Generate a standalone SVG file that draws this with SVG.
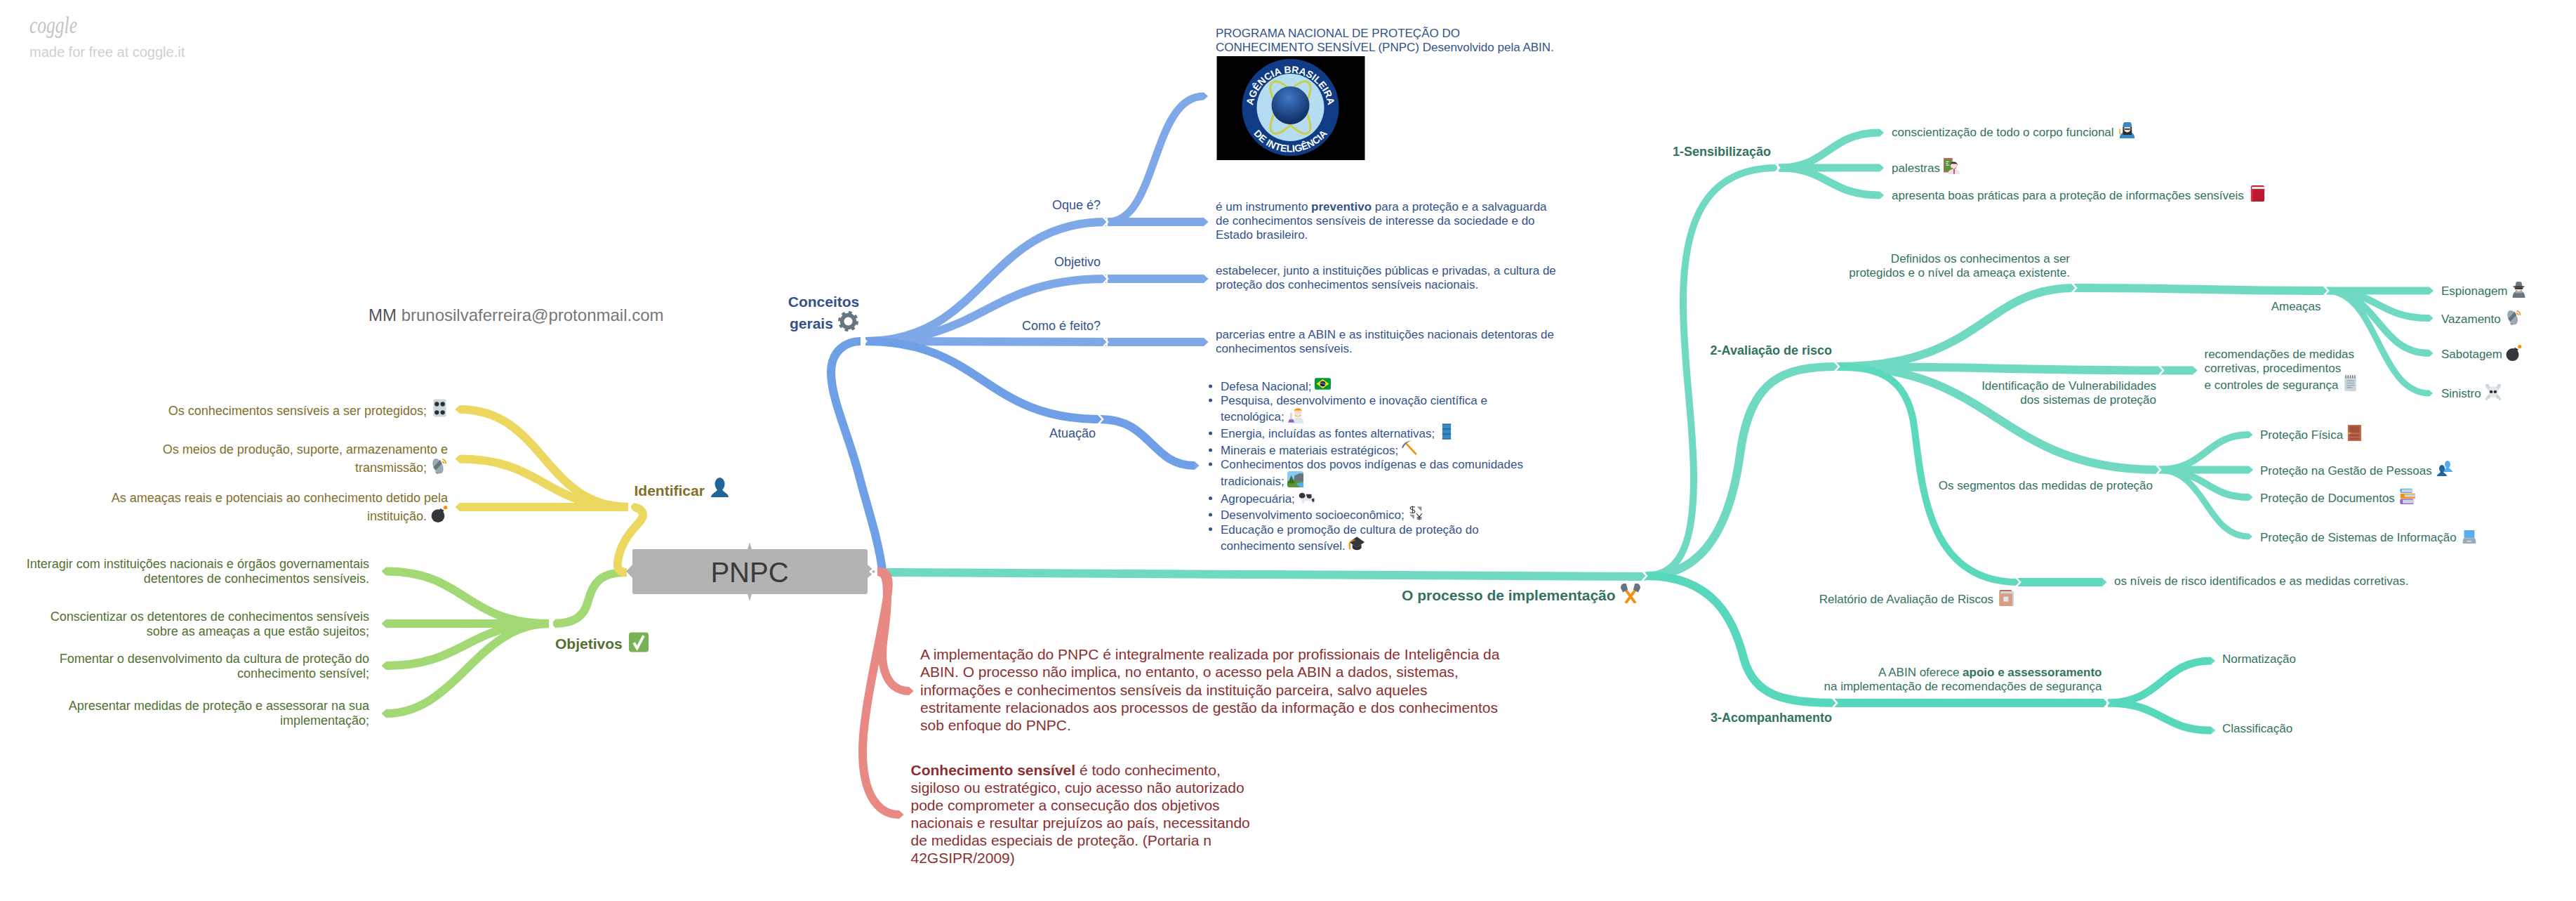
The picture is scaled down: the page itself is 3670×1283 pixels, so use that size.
<svg xmlns="http://www.w3.org/2000/svg" xmlns:xlink="http://www.w3.org/1999/xlink" width="3670" height="1283" viewBox="0 0 3670 1283">
<style>
text{font-family:"Liberation Sans",Arial,sans-serif;font-size:18px}
.ye{fill:#7f6f2b}
.gr{fill:#527030}
.bl{fill:#34528a;font-size:17px}
.te{fill:#33725f;font-size:17px}
.re{fill:#8b3030;font-size:21px}
.b{font-weight:bold}
.bt{font-weight:bold;font-size:21px}
.s18{font-size:18px}
.r{text-anchor:end}
.m{text-anchor:middle}
.c{fill:none;stroke-linecap:butt;stroke-linejoin:round}
.cy{stroke:#ecd75f;stroke-width:12;marker-end:url(#ty)}
.cg{stroke:#a3d974;stroke-width:12;marker-end:url(#tg)}
.cb{stroke:#7ea8e7;stroke-width:12;marker-end:url(#tb)}
.ct{stroke:#6fd9c2;stroke-width:12;marker-end:url(#tt)}
.cr{stroke:#e88a83;stroke-width:12;marker-end:url(#tr)}
.n{marker-end:none}
.chev{fill:none;stroke:#fff;stroke-width:2.6}
</style>
<defs>
<marker id="ty" markerUnits="strokeWidth" viewBox="0 -0.5 0.6 1" refX="0" refY="0" markerWidth="0.6" markerHeight="1" orient="auto"><path d="M0-.5.55 0 0 .5Z" fill="#ecd75f"/></marker>
<marker id="tg" markerUnits="strokeWidth" viewBox="0 -0.5 0.6 1" refX="0" refY="0" markerWidth="0.6" markerHeight="1" orient="auto"><path d="M0-.5.55 0 0 .5Z" fill="#a3d974"/></marker>
<marker id="tb" markerUnits="strokeWidth" viewBox="0 -0.5 0.6 1" refX="0" refY="0" markerWidth="0.6" markerHeight="1" orient="auto"><path d="M0-.5.55 0 0 .5Z" fill="#7ea8e7"/></marker>
<marker id="tt" markerUnits="strokeWidth" viewBox="0 -0.5 0.6 1" refX="0" refY="0" markerWidth="0.6" markerHeight="1" orient="auto"><path d="M0-.5.55 0 0 .5Z" fill="#6fd9c2"/></marker>
<marker id="tr" markerUnits="strokeWidth" viewBox="0 -0.5 0.6 1" refX="0" refY="0" markerWidth="0.6" markerHeight="1" orient="auto"><path d="M0-.5.55 0 0 .5Z" fill="#e88a83"/></marker>
<path id="ch" class="chev" d="M-8-9 0 0-8 9"/>
<path id="chl" class="chev" d="M8-9 0 0 8 9"/>
<symbol id="i-knobs" viewBox="0 0 36 36"><rect x="5" width="26" height="36" rx="3" fill="#ccd6dd"/><g fill="#292f33"><circle cx="12" cy="10" r="4.5"/><circle cx="24" cy="10" r="4.5"/><circle cx="12" cy="27" r="4.5"/><circle cx="24" cy="27" r="4.5"/></g></symbol>
<symbol id="i-sat" viewBox="0 0 36 36"><g transform="rotate(-25 15 19)"><ellipse cx="15" cy="19" rx="10" ry="17" fill="#99aab5"/><path d="M5 17 25 9V18L7 25Z" fill="#66757f"/></g><path d="M8 30 20 34 12 36Z" fill="#8899a6"/><path d="M24 4C29 5 32 9 32 14M24 9C26 10 28 11 28 14" fill="none" stroke="#f4900c" stroke-width="2.4"/></symbol>
<symbol id="i-bomb" viewBox="0 0 36 36"><circle cx="15" cy="22" r="14" fill="#31373d"/><path d="M20 6 28 10 24 16 17 12Z" fill="#31373d"/><circle cx="31" cy="4" r="4" fill="#f4900c"/></symbol>
<symbol id="i-bust" viewBox="0 0 36 36"><ellipse cx="18" cy="12" rx="9" ry="12" fill="currentColor"/><path d="M2 36C2 28 13 28 14 20H22C23 28 34 28 34 36Z" fill="currentColor"/></symbol>
<symbol id="i-check" viewBox="0 0 36 36"><rect width="36" height="36" rx="5" fill="#77b255"/><path d="M9 19 15 29 27 6" fill="none" stroke="#fff" stroke-width="5"/></symbol>
<symbol id="i-gear" viewBox="0 0 36 36"><circle cx="18" cy="18" r="11" fill="none" stroke="#66757f" stroke-width="7"/><circle cx="18" cy="18" r="15.8" fill="none" stroke="#66757f" stroke-width="4.4" stroke-dasharray="6 6.41"/></symbol>
<symbol id="i-flag" viewBox="0 0 36 36"><rect width="36" height="26" y="5" rx="4" fill="#009b3a"/><path d="M18 8 32 18 18 28 4 18Z" fill="#fedf00"/><circle cx="18" cy="18" r="6" fill="#002776"/><path d="M12 17Q18 15 24 20" stroke="#fff" fill="none"/></symbol>
<symbol id="i-sci" viewBox="0 0 36 36"><circle cx="22" cy="10" r="8" fill="#f7dece"/><path d="M13 9C14 0 31 0 31 9L29 7H15Z" fill="#f4900c"/><path d="M15 16Q22 22 29 16L28 20H16Z" fill="#f4900c"/><path d="M12 36C12 24 17 21 22 21S34 24 35 34V36Z" fill="#e1e8ed"/><path d="M5 12H9V22L13 32H1L5 22Z" fill="#ccd6dd"/><path d="M3 27H12L14 34H0Z" fill="#9266cc"/></symbol>
<symbol id="i-barrel" viewBox="0 0 36 36"><rect x="8" width="20" height="36" fill="#3b88c3"/><path d="M8 1H28M8 12H28M8 24H28M8 35H28" stroke="#226699" stroke-width="2.4"/></symbol>
<symbol id="i-pick" viewBox="0 0 36 36"><path d="M11 8 34 33" stroke="#f4900c" stroke-width="4.5"/><path d="M0 17C3 8 12 1 24 1 15 3 8 9 3 18Z" fill="#66757f"/></symbol>
<symbol id="i-land" viewBox="0 0 36 36"><rect width="36" height="36" rx="5" fill="#88c9f9"/><path d="M14 24 16 10 26 5H36V28Z" fill="#66757f"/><path d="M0 22H36V31A5 5 0 0 1 31 36H5A5 5 0 0 1 0 31Z" fill="#5c913b"/><path d="M36 24C26 27 18 26 22 30S28 33 30 36H36Z" fill="#55acee"/><path d="M9 9 17 27H1Z" fill="#3e721d"/></symbol>
<symbol id="i-cow" viewBox="0 0 36 36"><path d="M7 12H30Q35 14 35 22V30H30L29 24H13L12 30H8L7 22Z" fill="#e6e7e8"/><ellipse cx="8" cy="12" rx="7" ry="6" fill="#31373d"/><path d="M17 9H29V17Q24 21 19 16Z" fill="#31373d"/><path d="M29 20 35 18V26H31Z" fill="#31373d"/></symbol>
<symbol id="i-cur" viewBox="0 0 36 36"><g fill="none" stroke="#31373d" stroke-width="2"><path d="M16 3C12 1 4 1 4 6S16 9 16 14 7 19 3 16M10 0V19"/><path d="M20 19 27 28 34 19M27 28V36M21 29H33M21 33H33"/></g><path d="M21 2H33V14ZM2 22H14V34Z" fill="#8899a6"/></symbol>
<symbol id="i-cap" viewBox="0 0 36 36"><path d="M19 2 36 14 19 26 2 14Z" fill="#31373d"/><path d="M9 19V27C13 33 25 33 29 27V19L19 26Z" fill="#292f33"/><path d="M3 15V30" stroke="#f4900c" stroke-width="3.5"/><path d="M3 14 15 9" stroke="#f4900c" stroke-width="2"/></symbol>
<symbol id="i-ham" viewBox="0 0 36 36"><path d="M5 6 27 36M31 6 9 36" stroke="#f4900c" stroke-width="5"/><path d="M0 8 C0 0 6 -1 10 0L13 11 4 16ZM36 8C36 0 30-1 26 0L23 11 32 16Z" fill="#66757f"/></symbol>
<symbol id="i-tea" viewBox="0 0 36 36"><rect width="20" height="32" fill="#c1694f" rx="1"/><rect x="2" y="3" width="16" height="26" fill="#5c913b"/><path d="M5 8H12M5 12H10M5 16H13" stroke="#fff" stroke-width="1.5"/><path d="M10 36C10 27 16 25 23 25S36 27 36 36Z" fill="#e1e8ed"/><path d="M22 25H25L24.500 36H22.500Z" fill="#dd2e44"/><circle cx="23" cy="17" r="7.500" fill="#f7dece"/><path d="M15 17C14 6 32 6 31 17L29 13H17Z" fill="#292f33"/><path d="M18 21Q23 26 28 21L27 24H19Z" fill="#292f33"/></symbol>
<symbol id="i-grd" viewBox="0 0 36 36"><path d="M3 34C3 25 11 22 20 22S36 25 36 34V36H3Z" fill="#3b88c3"/><path d="M10 10C10 24 9 26 11 28H29C31 26 30 24 30 10Z" fill="#292f33"/><circle cx="20" cy="15" r="7.500" fill="#f7dece"/><path d="M13 14H27L26 17H14Z" fill="#292f33"/><path d="M10 11C10 0 14 -2 20 0 26-2 30 0 30 11Z" fill="#3b88c3"/><path d="M2 15H5V27H2Z" fill="#ffac33"/></symbol>
<symbol id="i-red" viewBox="0 0 36 36"><rect x="3" width="30" height="36" rx="4" fill="#be1931"/><rect x="5" y="3" width="28" height="5" fill="#e1e8ed"/><rect x="3" y="8" width="4" height="28" fill="#dd2e44"/></symbol>
<symbol id="i-note" viewBox="0 0 36 36"><rect x="5" y="3" width="26" height="33" fill="#ccd6dd" rx="2"/><path d="M10 13H27M10 18H27M10 23H27M10 28H22" stroke="#99aab5" stroke-width="2.500"/><path d="M8 0V7M13 0V7M18 0V7M23 0V7M28 0V7" stroke="#66757f" stroke-width="2"/></symbol>
<symbol id="i-spy" viewBox="0 0 36 36"><path d="M4 36C4 24 12 20 18 20S32 24 32 36Z" fill="#66757f"/><circle cx="18" cy="15" r="8" fill="#ffdbac"/><path d="M9 13H27V17H9Z" fill="#292f33"/><path d="M11 18 18 23 25 18 26 26H10Z" fill="#99aab5"/><path d="M10 11 12 1Q18-1 24 1L26 11Z" fill="#66757f"/><path d="M5 10H31L29 13H7Z" fill="#31373d"/></symbol>
<symbol id="i-skull" viewBox="0 0 36 36"><path d="M5 5 31 31M31 5 5 31" stroke="#ccd6dd" stroke-width="7"/><g fill="#ccd6dd"><circle cx="5" cy="3" r="4"/><circle cx="31" cy="3" r="4"/><circle cx="3" cy="33" r="3"/><circle cx="33" cy="33" r="3"/></g><circle cx="18" cy="16" r="11" fill="#e1e8ed"/><rect x="12" y="22" width="12" height="7" fill="#e1e8ed"/><circle cx="13.500" cy="17" r="3.500" fill="#292f33"/><circle cx="22.500" cy="17" r="3.500" fill="#292f33"/></symbol>
<symbol id="i-door" viewBox="0 0 36 36"><rect x="3" width="30" height="36" fill="#c1694f"/><rect x="7" y="3" width="22" height="14" fill="#a0503a"/><rect x="7" y="21" width="22" height="5" fill="#a0503a"/><rect x="7" y="29" width="22" height="4" fill="#a0503a"/><rect x="3" y="17" width="6" height="3" fill="#ffac33"/></symbol>
<symbol id="i-books" viewBox="0 0 36 36"><rect x="2" y="1" width="28" height="10" rx="3" fill="#55acee"/><rect x="6" y="3" width="24" height="6" fill="#ccd6dd"/><rect x="3" y="12" width="33" height="11" rx="1" fill="#f4900c"/><rect x="12" y="14" width="24" height="6" fill="#ccd6dd"/><rect x="2" y="24" width="31" height="12" rx="4" fill="#9266cc"/><rect x="8" y="26" width="25" height="8" fill="#ccd6dd"/></symbol>
<symbol id="i-lap" viewBox="0 0 36 36"><rect x="4" width="28" height="22" rx="1" fill="#5dadec"/><path d="M2 22H34L36 33Q36 36 32 36H4Q0 36 0 33Z" fill="#99aab5"/><rect x="12" y="28" width="12" height="4" fill="#ccd6dd"/></symbol>
<symbol id="i-book2" viewBox="0 0 36 36"><rect x="4" width="28" height="36" rx="3" fill="#c1694f"/><rect x="6" y="3" width="30" height="33" fill="#ccd6dd"/><rect x="4" y="8" width="29" height="28" fill="#d99e82"/><rect x="13" y="15" width="11" height="11" fill="#e1e8ed"/></symbol>
<path id="arcTop" d="M1784.500 158A54 54 0 0 1 1892.500 158"/>
<path id="arcBot" d="M1772 150A66.500 66.500 0 0 0 1905 150"/>
<radialGradient id="globe" cx="45%" cy="30%" r="70%"><stop offset="0" stop-color="#3f78c4"/><stop offset="1" stop-color="#0d2c62"/></radialGradient>
</defs>
<g id="watermark"><text x="42" y="47" style="font-family:'Liberation Serif',serif;font-style:italic;font-size:33px" fill="#c4c4c4" textLength="68" lengthAdjust="spacingAndGlyphs">coggle</text><text x="42" y="81" style="font-size:20px" fill="#cfcfcf">made for free at coggle.it</text></g>
<g id="connectors">
<path class="c cg n" d="M893 815C855 815 845 830 838 855 832 880 815 888 788 888"/>
<path class="c cg" d="M782 888C663 888 663 813.500 550 813.500"/>
<path class="c cg" d="M782 888C663 888 663 888 550 888"/>
<path class="c cg" d="M782 888C663 888 663 948 550 948"/>
<path class="c cg" d="M782 888C680 888 650 1016 550 1016"/>
<path class="c cy n" d="M893 815C878 815 878 805 882 790 892 755 916 745 916 733 916 726 908 722 899 722"/>
<path class="c cy" d="M895 722C775 722 775 583 655 583"/>
<path class="c cy" d="M895 722C775 722 775 653.500 655 653.500"/>
<path class="c cy" d="M895 722H655"/>
<path class="c cb n" style="stroke:#6f9fe6" d="M1257 812C1252 770 1235 720 1226 685 1210 620 1184 570 1184 530 1184 500 1205 486 1226 486"/>
<path class="c cb n" d="M1233 486C1404 486 1404 316 1576 316"/>
<path class="c cb" d="M1578 316H1715"/>
<path class="c cb" style="stroke-width:11" d="M1578 316C1650 316 1640 137 1715 137"/>
<path class="c cb n" d="M1233 486C1404 486 1404 397 1576 397"/>
<path class="c cb" d="M1578 397H1715"/>
<path class="c cb n" d="M1233 486C1404 486 1404 487 1576 487"/>
<path class="c cb" d="M1578 487H1715"/>
<path class="c cb n" style="stroke:#6f9fe6" d="M1233 486C1400 486 1400 597 1568 597"/>
<path class="c cb" style="stroke:#6f9fe6" d="M1568 597C1640 597 1640 663 1702 663"/>
<path class="c ct n" d="M1255 815C1700 815 1900 821 2345 821"/>
<path class="c ct n" style="stroke-width:10" d="M2345 820C2400 820 2413 760 2413 680 2413 600 2398 520 2398 430 2398 300 2440 239 2532 239"/>
<path class="c ct" style="stroke-width:11" d="M2534 239C2605 239 2605 189 2678 189"/>
<path class="c ct" style="stroke-width:11" d="M2534 239H2678"/>
<path class="c ct" style="stroke-width:11" d="M2534 239C2605 239 2605 278 2678 278"/>
<path class="c ct n" d="M2345 820C2420 820 2465 760 2480 640 2495 540 2540 522 2618 522"/>
<path class="c ct n" d="M2618 522C2825 522 2825 410 2956 410"/>
<path class="c ct n" d="M2956 410C3140 410 3140 414 3314 414"/>
<path class="c ct" style="stroke-width:11" d="M3314 414H3461"/>
<path class="c ct" style="stroke-width:10" d="M3314 414C3388 414 3388 453 3461 453"/>
<path class="c ct" style="stroke-width:10" d="M3314 414C3388 414 3388 503 3461 503"/>
<path class="c ct" style="stroke-width:9" d="M3314 414C3388 414 3388 560 3461 560"/>
<path class="c ct n" d="M2618 522C2850 522 2850 527.500 3080 527.500"/>
<path class="c ct" d="M3080 527.500H3124"/>
<path class="c ct n" d="M2618 522C2845 522 2845 669 3075 669"/>
<path class="c ct" style="stroke-width:10" d="M3075 669C3143 669 3143 619 3204 619"/>
<path class="c ct" style="stroke-width:11" d="M3075 669H3204"/>
<path class="c ct" style="stroke-width:10" d="M3075 669C3143 669 3143 708 3204 708"/>
<path class="c ct" style="stroke-width:9" d="M3075 669C3143 669 3143 764 3204 764"/>
<path class="c ct n" style="stroke:#5cd9bd;stroke-width:10" d="M2618 522C2680 522 2715 540 2726 600 2738 680 2740 829 2875 829"/>
<path class="c ct" style="stroke:#5cd9bd" d="M2875 829H2995"/>
<path class="c ct n" style="stroke:#57d8bc" d="M2345 820C2440 820 2470 880 2485 940 2500 990 2540 1001 2614 1001"/>
<path class="c ct n" style="stroke:#57d8bc" d="M2614 1001H3001"/>
<path class="c ct" style="stroke:#57d8bc;stroke-width:11" d="M3003 1001C3080 1001 3080 941 3150 941"/>
<path class="c ct" style="stroke:#57d8bc;stroke-width:11" d="M3003 1001C3080 1001 3080 1040 3150 1040"/>
<path class="c cr" style="stroke-width:12" d="M1250 814C1262 814 1264 825 1264 850 1264 890 1254 920 1258 945 1262 970 1275 984 1295 984"/>
<path class="c cr" d="M1252 814C1266 814 1268 825 1264 850 1256 905 1229 1010 1229 1070 1229 1130 1250 1160 1281 1160"/>
<use xlink:href="#ch" href="#ch" x="1234" y="486"/>
<use xlink:href="#ch" href="#ch" x="1578" y="316"/>
<use xlink:href="#ch" href="#ch" x="1578" y="397"/>
<use xlink:href="#ch" href="#ch" x="1578" y="487"/>
<use xlink:href="#ch" href="#ch" x="1571" y="597"/>
<use xlink:href="#ch" href="#ch" x="2346" y="820"/>
<use xlink:href="#ch" href="#ch" x="2535" y="239"/>
<use xlink:href="#ch" href="#ch" x="2620" y="522"/>
<use xlink:href="#ch" href="#ch" x="2617" y="1001"/>
<use xlink:href="#ch" href="#ch" x="2958" y="410"/>
<use xlink:href="#ch" href="#ch" x="3317" y="414"/>
<use xlink:href="#ch" href="#ch" x="3082" y="527.500"/>
<use xlink:href="#ch" href="#ch" x="3078" y="669"/>
<use xlink:href="#ch" href="#ch" x="2878" y="829"/>
<use xlink:href="#ch" href="#ch" x="3004" y="1001"/>
<use xlink:href="#chl" href="#chl" x="896" y="722"/>
<use xlink:href="#chl" href="#chl" x="784" y="888"/>
</g>
<g id="root"><path d="M892 813.500 901 804V782.500Q901 782 904 782H1065L1068 772 1071 782H1233Q1236 782 1236 785V804L1247 814 1236 823V843Q1236 846 1233 846H1071L1068 856 1065 846H904Q901 846 901 843V823Z" fill="#b3b3b3"/><path d="M1249 806 1240 814 1249 822" fill="none" stroke="#fff" stroke-width="2.600"/><text x="1068" y="829" class="m" style="font-size:40px" fill="#3a3a3a">PNPC</text></g>
<g id="contact"><text x="525" y="457" style="font-size:24px" fill="#777"><tspan fill="#555">MM </tspan>brunosilvaferreira@protonmail.com</text></g>
<g id="identificar"><text x="903.500" y="706" class="bt ye">Identificar</text><use href="#i-bust" x="1011" y="680" width="29" height="28" color="#226699"/></g>
<g id="id-1"><text x="608" y="591" class="r ye">Os conhecimentos sensíveis a ser protegidos;</text><use href="#i-knobs" x="614" y="568" width="25" height="26"/></g>
<g id="id-2"><text x="638" y="646" class="r ye">Os meios de produção, suporte, armazenamento e</text><text x="608" y="672" class="r ye">transmissão;</text><use href="#i-sat" x="614" y="651" width="24" height="24"/></g>
<g id="id-3"><text x="638" y="715" class="r ye">As ameaças reais e potenciais ao conhecimento detido pela</text><text x="608" y="741" class="r ye">instituição.</text><use href="#i-bomb" x="614" y="720" width="24" height="24"/></g>
<g id="objetivos"><text x="791" y="924" class="bt gr">Objetivos</text><use href="#i-check" x="896" y="900" width="28" height="29"/></g>
<g id="ob-1"><text x="526" y="809" class="r gr">Interagir com instituições nacionais e órgãos governamentais</text><text x="526" y="830" class="r gr">detentores de conhecimentos sensíveis.</text></g>
<g id="ob-2"><text x="526" y="884" class="r gr">Conscientizar os detentores de conhecimentos sensíveis</text><text x="526" y="905" class="r gr">sobre as ameaças a que estão sujeitos;</text></g>
<g id="ob-3"><text x="526" y="944" class="r gr">Fomentar o desenvolvimento da cultura de proteção do</text><text x="526" y="965" class="r gr">conhecimento sensível;</text></g>
<g id="ob-4"><text x="526" y="1011" class="r gr">Apresentar medidas de proteção e assessorar na sua</text><text x="526" y="1032" class="r gr">implementação;</text></g>
<g id="conceitos"><text x="1173.500" y="437" class="bl bt m">Conceitos</text><text x="1125" y="468" class="bl bt">gerais</text><use href="#i-gear" x="1194" y="443" width="29" height="29"/></g>
<g id="oque"><text x="1568" y="298" class="r bl s18">Oque é?</text></g>
<g id="objetivo"><text x="1568" y="379" class="r bl s18">Objetivo</text></g>
<g id="como"><text x="1568" y="470" class="r bl s18">Como é feito?</text></g>
<g id="atuacao"><text x="1495" y="623" class="bl s18">Atuação</text></g>
<g id="logo-node"><text x="1732" y="53" class="bl">PROGRAMA NACIONAL DE PROTEÇÃO DO</text><text x="1732" y="73" class="bl">CONHECIMENTO SENSÍVEL (PNPC) Desenvolvido pela ABIN.</text>
<rect x="1733.500" y="80" width="211" height="148" fill="#000"/><circle cx="1838.500" cy="153" r="69" fill="#103c85"/><circle cx="1838.500" cy="153" r="48" fill="#b5dcf0"/><g fill="none" stroke="#c9cf4a" stroke-width="3"><ellipse cx="1838.500" cy="153" rx="16" ry="44" transform="rotate(35 1838.500 153)"/><ellipse cx="1838.500" cy="153" rx="16" ry="44" transform="rotate(-35 1838.500 153)"/></g><circle cx="1838.500" cy="150" r="27" fill="url(#globe)"/>
<text style="font-size:14px;font-weight:bold" fill="#fff"><textPath href="#arcTop" startOffset="50%" text-anchor="middle">AGÊNCIA BRASILEIRA</textPath></text><text style="font-size:14px;font-weight:bold" fill="#fff"><textPath href="#arcBot" startOffset="50%" text-anchor="middle">DE INTELIGÊNCIA</textPath></text></g>
<g id="oque-txt"><text x="1732" y="300" class="bl">é um instrumento <tspan class="b">preventivo</tspan> para a proteção e a salvaguarda</text><text x="1732" y="320" class="bl">de conhecimentos sensíveis de interesse da sociedade e do</text><text x="1732" y="340" class="bl">Estado brasileiro.</text></g>
<g id="obj-txt"><text x="1732" y="391" class="bl">estabelecer, junto a instituições públicas e privadas, a cultura de</text><text x="1732" y="411" class="bl">proteção dos conhecimentos sensíveis nacionais.</text></g>
<g id="como-txt"><text x="1732" y="482" class="bl">parcerias entre a ABIN e as instituições nacionais detentoras de</text><text x="1732" y="502" class="bl">conhecimentos sensíveis.</text></g>
<g id="atuacao-list">
<g fill="#34528a"><circle cx="1724.500" cy="550" r="2.500"/><circle cx="1724.500" cy="570" r="2.500"/><circle cx="1724.500" cy="617" r="2.500"/><circle cx="1724.500" cy="641" r="2.500"/><circle cx="1724.500" cy="661" r="2.500"/><circle cx="1724.500" cy="709.500" r="2.500"/><circle cx="1724.500" cy="733" r="2.500"/><circle cx="1724.500" cy="753.500" r="2.500"/></g>
<text x="1739" y="556" class="bl">Defesa Nacional;</text><use href="#i-flag" x="1873" y="535" width="23" height="23"/>
<text x="1739" y="576" class="bl">Pesquisa, desenvolvimento e inovação científica e</text>
<text x="1739" y="599" class="bl">tecnológica;</text><use href="#i-sci" x="1835" y="580" width="23" height="23"/>
<text x="1739" y="623" class="bl">Energia, incluídas as fontes alternativas;</text><use href="#i-barrel" x="2050" y="603" width="22" height="23"/>
<text x="1739" y="647" class="bl">Minerais e materiais estratégicos;</text><use href="#i-pick" x="1997" y="627" width="22" height="22"/>
<text x="1739" y="667" class="bl">Conhecimentos dos povos indígenas e das comunidades</text>
<text x="1739" y="691" class="bl">tradicionais;</text><use href="#i-land" x="1834" y="671" width="23" height="23"/>
<text x="1739" y="715.500" class="bl">Agropecuária;</text><use href="#i-cow" x="1850" y="698" width="23" height="23"/>
<text x="1739" y="739" class="bl">Desenvolvimento socioeconômico;</text><use href="#i-cur" x="2007" y="719" width="20" height="23"/>
<text x="1739" y="760" class="bl">Educação e promoção de cultura de proteção do</text>
<text x="1739" y="783" class="bl">conhecimento sensível.</text><use href="#i-cap" x="1921" y="763" width="23" height="23"/>
</g>
<g id="red-1"><text x="1311" y="939" class="re">A implementação do PNPC é integralmente realizada por profissionais de Inteligência da</text><text x="1311" y="964" class="re">ABIN. O processo não implica, no entanto, o acesso pela ABIN a dados, sistemas,</text><text x="1311" y="989.500" class="re">informações e conhecimentos sensíveis da instituição parceira, salvo aqueles</text><text x="1311" y="1014.500" class="re">estritamente relacionados aos processos de gestão da informação e dos conhecimentos</text><text x="1311" y="1039.500" class="re">sob enfoque do PNPC.</text></g>
<g id="red-2"><text x="1297.500" y="1104" class="re"><tspan class="b">Conhecimento sensível</tspan> é todo conhecimento,</text><text x="1297.500" y="1129" class="re">sigiloso ou estratégico, cujo acesso não autorizado</text><text x="1297.500" y="1154" class="re">pode comprometer a consecução dos objetivos</text><text x="1297.500" y="1179" class="re">nacionais e resultar prejuízos ao país, necessitando</text><text x="1297.500" y="1204" class="re">de medidas especiais de proteção. (Portaria n</text><text x="1297.500" y="1229" class="re">42GSIPR/2009)</text></g>
<g id="processo"><text x="1997" y="855" class="te bt">O processo de implementação</text><use href="#i-ham" x="2309" y="831" width="28" height="28"/></g>
<g id="sens"><text x="2523" y="222" class="r te b s18">1-Sensibilização</text></g>
<g id="sens-1"><text x="2695" y="193.500" class="te">conscientização de todo o corpo funcional</text><use href="#i-grd" x="3018" y="174" width="23" height="23"/></g>
<g id="sens-2"><text x="2695" y="245" class="te">palestras</text><use href="#i-tea" x="2769" y="225" width="23" height="23"/></g>
<g id="sens-3"><text x="2695" y="283.500" class="te">apresenta boas práticas para a proteção de informações sensíveis</text><use href="#i-red" x="3205" y="264" width="23" height="23"/></g>
<g id="aval"><text x="2610" y="505" class="r te b s18">2-Avaliação de risco</text></g>
<g id="aval-a"><text x="2949" y="373.500" class="r te">Definidos os conhecimentos a ser</text><text x="2949" y="393.500" class="r te">protegidos e o nível da ameaça existente.</text></g>
<g id="ameacas"><text x="3306.500" y="442" class="r te">Ameaças</text></g>
<g id="esp"><text x="3478" y="420" class="te">Espionagem</text><use href="#i-spy" x="3577" y="401" width="23" height="23"/></g>
<g id="vaz"><text x="3478" y="460" class="te">Vazamento</text><use href="#i-sat" x="3570" y="440" width="23" height="23"/></g>
<g id="sab"><text x="3478" y="510" class="te">Sabotagem</text><use href="#i-bomb" x="3570" y="491" width="23" height="23"/></g>
<g id="sin"><text x="3478" y="566" class="te">Sinistro</text><use href="#i-skull" x="3540" y="547" width="24" height="23"/></g>
<g id="aval-b"><text x="3072" y="555" class="r te">Identificação de Vulnerabilidades</text><text x="3072" y="575" class="r te">dos sistemas de proteção</text></g>
<g id="recs"><text x="3140.500" y="510" class="te">recomendações de medidas</text><text x="3140.500" y="530" class="te">corretivas, procedimentos</text><text x="3140.500" y="554" class="te">e controles de segurança</text><use href="#i-note" x="3337" y="534" width="23" height="23"/></g>
<g id="aval-c"><text x="3067" y="697" class="r te">Os segmentos das medidas de proteção</text></g>
<g id="pf"><text x="3220" y="625" class="te">Proteção Física</text><use href="#i-door" x="3343" y="605" width="23" height="23"/></g>
<g id="pg"><text x="3220" y="676" class="te">Proteção na Gestão de Pessoas</text><use href="#i-bust" x="3479" y="655" width="16" height="18" color="#55acee"/><use href="#i-bust" x="3471" y="661" width="16" height="18" color="#226699"/></g>
<g id="pd"><text x="3220" y="715" class="te">Proteção de Documentos</text><use href="#i-books" x="3418" y="695" width="23" height="23"/></g>
<g id="ps"><text x="3220" y="771" class="te">Proteção de Sistemas de Informação</text><use href="#i-lap" x="3507" y="755" width="22" height="19"/></g>
<g id="rel"><text x="2840" y="859" class="r te">Relatório de Avaliação de Riscos</text><use href="#i-book2" x="2846" y="840" width="23" height="23"/></g>
<g id="rel-txt"><text x="3012" y="833" class="te">os níveis de risco identificados e as medidas corretivas.</text></g>
<g id="acomp"><text x="2610" y="1028" class="r te b s18">3-Acompanhamento</text></g>
<g id="acomp-a"><text x="2994.500" y="963" class="r te">A ABIN oferece <tspan class="b">apoio e assessoramento</tspan></text><text x="2994.500" y="983" class="r te">na implementação de recomendações de segurança</text></g>
<g id="norm"><text x="3166" y="944" class="te">Normatização</text></g>
<g id="clas"><text x="3166" y="1043" class="te">Classificação</text></g>
</svg>
